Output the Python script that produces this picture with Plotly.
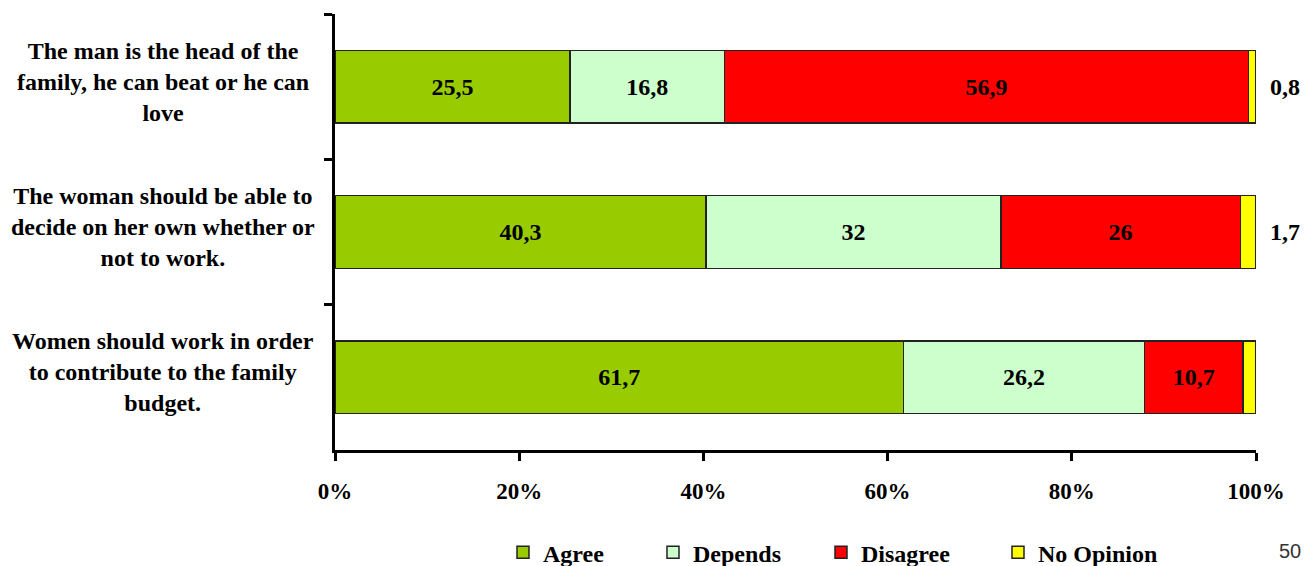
import plotly.graph_objects as go

# Survey statements (top to bottom) and answer shares in percent
statements = [
    "The man is the head of the<br>family, he can beat or he can<br>love",
    "The woman should be able to<br>decide on her own whether or<br>not to work.",
    "Women should work in order<br>to contribute to the family<br>budget.",
]
agree = [25.5, 40.3, 61.7]
depends = [16.8, 32, 26.2]
disagree = [56.9, 26, 10.7]
no_opinion = [0.8, 1.7, 1.4]

series_names = ["Agree", "Depends", "Disagree", "No Opinion"]
series_values = [agree, depends, disagree, no_opinion]
series_colors = ["#99CC00", "#CCFFCC", "#FF0000", "#FFFF00"]
legend_widths = [105, 123, 132, 130]

x_ticks = [0, 20, 40, 60, 80, 100]
x_tick_labels = [f"{t}%" for t in x_ticks]

SERIF = "Liberation Serif"


def fmt(v):
    return f"{v:g}".replace(".", ",")


fig = go.Figure()
for name, vals, color, lw in zip(series_names, series_values, series_colors, legend_widths):
    inside = name != "No Opinion"
    fig.add_trace(go.Bar(
        name=name,
        y=statements,
        x=vals,
        orientation="h",
        marker=dict(color=color, line=dict(color="#222222", width=1.5)),
        text=[fmt(v) for v in vals] if inside else None,
        textposition="inside" if inside else "none",
        insidetextanchor="middle",
        textfont=dict(family=SERIF, size=24, color="black", weight="bold"),
        legendwidth=lw,
        hoverinfo="x+name",
    ))

# values of the thin last segment, written just past the bar end
totals = [a + b + c + d for a, b, c, d in zip(agree, depends, disagree, no_opinion)]
for s, tot, v in zip(statements, totals, no_opinion):
    fig.add_annotation(
        x=tot, y=s, xref="x", yref="y", text=fmt(v), showarrow=False,
        xanchor="left", xshift=12,
        font=dict(family=SERIF, size=24, color="black", weight="bold"),
    )

# category labels, centred block to the left of the axis
for s in statements:
    fig.add_annotation(
        x=0, y=s, xref="paper", yref="y", text=s, showarrow=False,
        xanchor="center", xshift=-172, yshift=5, align="center",
        font=dict(family=SERIF, size=24, color="black", weight="bold"),
    )

# page number
fig.add_annotation(
    x=1.0369, y=-0.2306, xref="paper", yref="paper", text="50", showarrow=False,
    xanchor="center", yanchor="middle",
    font=dict(family="Liberation Sans", size=20, color="#333333"),
)

fig.update_layout(
    width=1311, height=566,
    margin=dict(l=335, r=55, t=14, b=116, autoexpand=False),
    barmode="stack",
    bargap=0.5,
    plot_bgcolor="white",
    paper_bgcolor="white",
    showlegend=True,
    legend=dict(
        orientation="h", x=0.1824, xanchor="left", y=-0.2352, yanchor="middle",
        font=dict(family=SERIF, size=24, color="black", weight="bold"),
        traceorder="normal", bgcolor="rgba(0,0,0,0)",
    ),
    xaxis=dict(
        range=[0, 100], tickvals=x_ticks, ticktext=x_tick_labels,
        showline=True, linewidth=3, linecolor="black",
        ticks="outside", ticklen=8, tickwidth=3, tickcolor="black",
        showgrid=False, zeroline=False,
        tickfont=dict(family=SERIF, size=23, color="black", weight="bold"),
        ticklabelstandoff=10,
    ),
    yaxis=dict(
        autorange="reversed",
        showline=True, linewidth=3, linecolor="black",
        ticks="outside", tickson="boundaries", ticklen=8, tickwidth=3, tickcolor="black",
        showticklabels=False, showgrid=False, zeroline=False,
    ),
)

fig.write_html("out.html")
